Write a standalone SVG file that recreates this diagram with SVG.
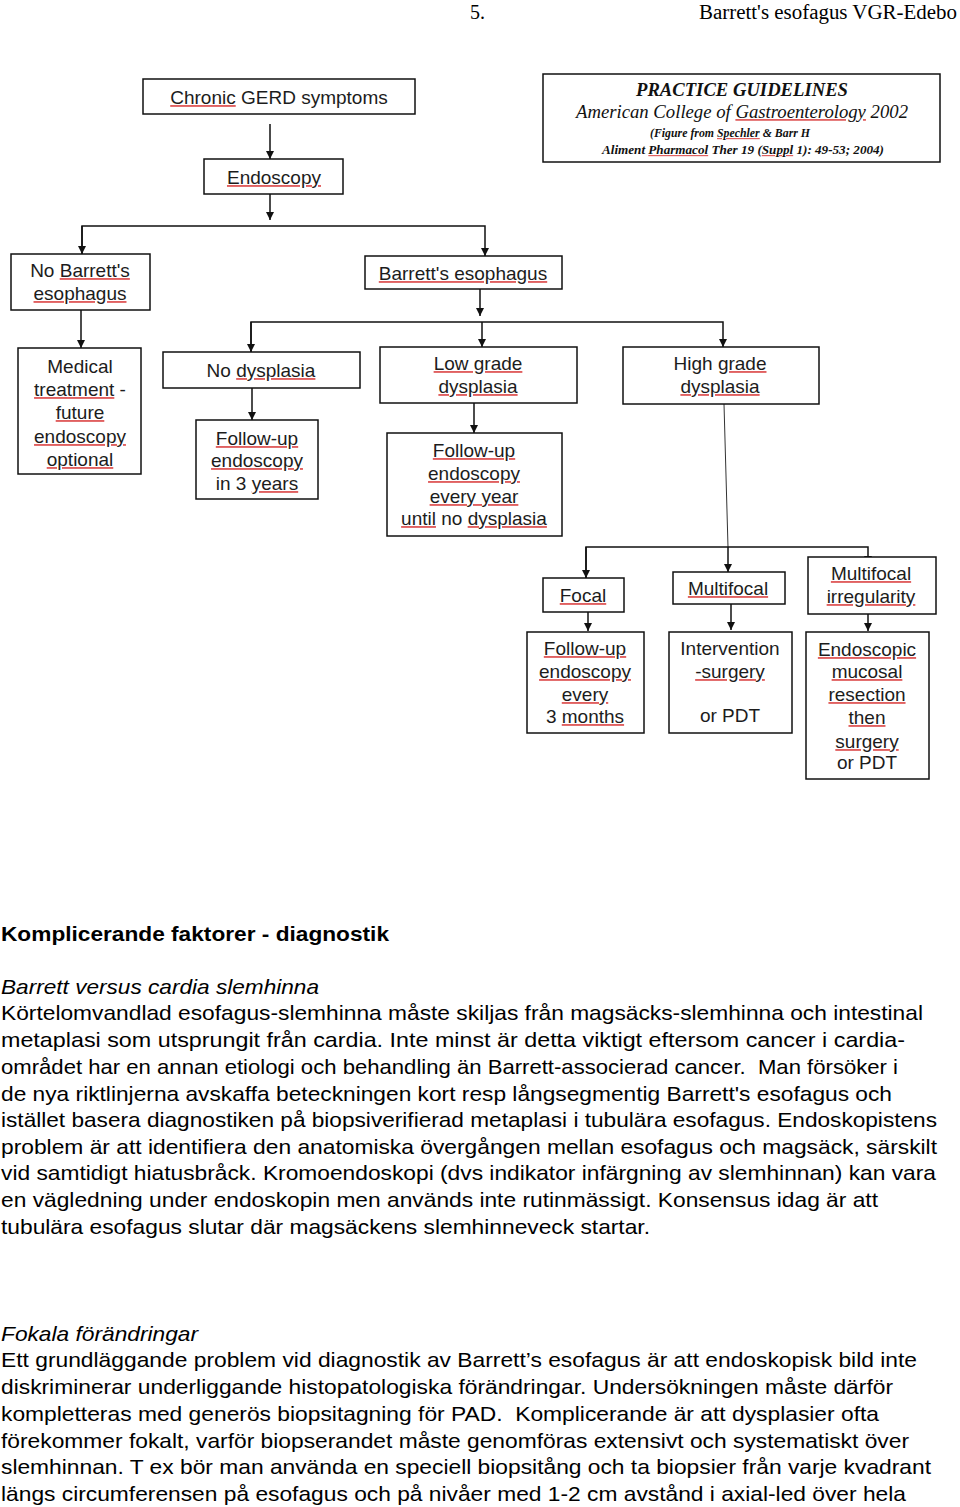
<svg xmlns="http://www.w3.org/2000/svg" width="960" height="1507" viewBox="0 0 960 1507">
<style>
.bx{fill:#fff;stroke:#111;stroke-width:1.5}
.n{font-family:"Liberation Sans",Arial,sans-serif;font-size:19px;fill:#1c1c1c;text-anchor:middle}
.s{text-decoration:underline;fill:#e06060}
.k{fill:#1c1c1c}
.c{stroke:#111;stroke-width:1.5;fill:none}
.p{font-family:"Liberation Sans",Arial,sans-serif;font-size:21px;fill:#000}
.h{font-family:"Liberation Serif","Times New Roman",serif;font-size:20px;fill:#000}
.g{font-family:"Liberation Serif","Times New Roman",serif;fill:#111;text-anchor:middle;font-style:italic}
</style>
<defs>
<marker id="ah" markerUnits="userSpaceOnUse" markerWidth="9" markerHeight="9" refX="8" refY="4" orient="auto">
<path d="M0,0 L8,4 L0,8 z" fill="#111"/>
</marker>
</defs>
<rect width="960" height="1507" fill="#fff"/>
<g id="header">
<text class="h" x="470" y="19">5.</text>
<text class="h" x="699" y="19" textLength="258" lengthAdjust="spacingAndGlyphs">Barrett's esofagus VGR-Edebo</text>
</g>
<g id="connectors">
<line class="c" x1="270" y1="124" x2="270" y2="159" marker-end="url(#ah)"/>
<line class="c" x1="270" y1="194" x2="270" y2="220" marker-end="url(#ah)"/>
<polyline class="c" points="82,254 82,226 485,226 485,256" marker-end="url(#ah)"/>
<line class="c" x1="82" y1="226" x2="82" y2="254" marker-end="url(#ah)"/>
<line class="c" x1="480" y1="289" x2="480" y2="316" marker-end="url(#ah)"/>
<polyline class="c" points="251,352 251,322 723,322 723,347" marker-end="url(#ah)"/>
<line class="c" x1="251" y1="322" x2="251" y2="352" marker-end="url(#ah)"/>
<line class="c" x1="482" y1="322" x2="482" y2="347" marker-end="url(#ah)"/>
<line class="c" x1="81" y1="310" x2="81" y2="348" marker-end="url(#ah)"/>
<line class="c" x1="252" y1="388" x2="252" y2="420" marker-end="url(#ah)"/>
<line class="c" x1="474" y1="403" x2="474" y2="433" marker-end="url(#ah)"/>
<line x1="724" y1="404" x2="728" y2="547" stroke="#333" stroke-width="1"/>
<polyline class="c" points="586,578 586,547 868,547 868,564" marker-end="url(#ah)"/>
<line class="c" x1="586" y1="547" x2="586" y2="578" marker-end="url(#ah)"/>
<line class="c" x1="728" y1="547" x2="728" y2="572" marker-end="url(#ah)"/>
<line class="c" x1="588" y1="612" x2="588" y2="631" marker-end="url(#ah)"/>
<line class="c" x1="731" y1="604" x2="731" y2="630" marker-end="url(#ah)"/>
<line class="c" x1="868" y1="614" x2="868" y2="631" marker-end="url(#ah)"/>
</g>
<g id="guidelines">
<rect class="bx" x="543" y="74" width="397" height="88"/>
<text class="g" x="742" y="96" font-size="18" font-weight="bold" textLength="212" lengthAdjust="spacingAndGlyphs">PRACTICE GUIDELINES</text>
<text class="g" x="742" y="118" font-size="18" textLength="332" lengthAdjust="spacingAndGlyphs">American College of <tspan class="s"><tspan fill="#111">Gastroenterology</tspan></tspan> 2002</text>
<text class="g" x="730" y="137" font-size="12" font-weight="bold" textLength="160" lengthAdjust="spacingAndGlyphs">(Figure from <tspan class="s"><tspan fill="#111">Spechler</tspan></tspan> &amp; Barr H</text>
<text class="g" x="743" y="154" font-size="12" font-weight="bold" textLength="282" lengthAdjust="spacingAndGlyphs">Aliment <tspan class="s"><tspan fill="#111">Pharmacol</tspan></tspan> Ther 19 (<tspan class="s"><tspan fill="#111">Suppl</tspan></tspan> 1): 49-53; 2004)</text>
</g>
<g id="gerd">
<rect class="bx" x="143" y="79" width="272" height="35"/>
<text class="n" x="279" y="104"><tspan class="s"><tspan class="k">Chronic</tspan></tspan> GERD symptoms</text>
</g>
<g id="endoscopy">
<rect class="bx" x="204" y="159" width="139" height="35"/>
<text class="n" x="274" y="184"><tspan class="s"><tspan class="k">Endoscopy</tspan></tspan></text>
</g>
<g id="no-barretts">
<rect class="bx" x="11" y="254" width="139" height="56"/>
<text class="n" x="80" y="277">No <tspan class="s"><tspan class="k">Barrett's</tspan></tspan></text>
<text class="n" x="80" y="300"><tspan class="s"><tspan class="k">esophagus</tspan></tspan></text>
</g>
<g id="barretts">
<rect class="bx" x="365" y="256" width="197" height="33"/>
<text class="n" x="463" y="280"><tspan class="s"><tspan class="k">Barrett's esophagus</tspan></tspan></text>
</g>
<g id="medical">
<rect class="bx" x="18" y="348" width="123" height="126"/>
<text class="n" x="80" y="373">Medical</text>
<text class="n" x="80" y="396"><tspan class="s"><tspan class="k">treatment</tspan></tspan> -</text>
<text class="n" x="80" y="419"><tspan class="s"><tspan class="k">future</tspan></tspan></text>
<text class="n" x="80" y="443"><tspan class="s"><tspan class="k">endoscopy</tspan></tspan></text>
<text class="n" x="80" y="466"><tspan class="s"><tspan class="k">optional</tspan></tspan></text>
</g>
<g id="no-dysplasia">
<rect class="bx" x="163" y="352" width="197" height="36"/>
<text class="n" x="261" y="377">No <tspan class="s"><tspan class="k">dysplasia</tspan></tspan></text>
</g>
<g id="followup-3y">
<rect class="bx" x="196" y="420" width="122" height="79"/>
<text class="n" x="257" y="445"><tspan class="s"><tspan class="k">Follow-up</tspan></tspan></text>
<text class="n" x="257" y="467"><tspan class="s"><tspan class="k">endoscopy</tspan></tspan></text>
<text class="n" x="257" y="490">in 3 <tspan class="s"><tspan class="k">years</tspan></tspan></text>
</g>
<g id="low-grade">
<rect class="bx" x="380" y="347" width="197" height="56"/>
<text class="n" x="478" y="370"><tspan class="s"><tspan class="k">Low grade</tspan></tspan></text>
<text class="n" x="478" y="393"><tspan class="s"><tspan class="k">dysplasia</tspan></tspan></text>
</g>
<g id="followup-year">
<rect class="bx" x="387" y="433" width="175" height="103"/>
<text class="n" x="474" y="457"><tspan class="s"><tspan class="k">Follow-up</tspan></tspan></text>
<text class="n" x="474" y="480"><tspan class="s"><tspan class="k">endoscopy</tspan></tspan></text>
<text class="n" x="474" y="503"><tspan class="s"><tspan class="k">every year</tspan></tspan></text>
<text class="n" x="474" y="525"><tspan class="s"><tspan class="k">until</tspan></tspan> no <tspan class="s"><tspan class="k">dysplasia</tspan></tspan></text>
</g>
<g id="high-grade">
<rect class="bx" x="623" y="347" width="196" height="57"/>
<text class="n" x="720" y="370">High <tspan class="s"><tspan class="k">grade</tspan></tspan></text>
<text class="n" x="720" y="393"><tspan class="s"><tspan class="k">dysplasia</tspan></tspan></text>
</g>
<g id="focal">
<rect class="bx" x="543" y="578" width="81" height="34"/>
<text class="n" x="583" y="602"><tspan class="s"><tspan class="k">Focal</tspan></tspan></text>
</g>
<g id="multifocal">
<rect class="bx" x="673" y="572" width="112" height="32"/>
<text class="n" x="728" y="595"><tspan class="s"><tspan class="k">Multifocal</tspan></tspan></text>
</g>
<g id="multifocal-irregularity">
<rect class="bx" x="808" y="557" width="128" height="57"/>
<text class="n" x="871" y="580"><tspan class="s"><tspan class="k">Multifocal</tspan></tspan></text>
<text class="n" x="871" y="603"><tspan class="s"><tspan class="k">irregularity</tspan></tspan></text>
</g>
<g id="followup-3m">
<rect class="bx" x="527" y="632" width="117" height="101"/>
<text class="n" x="585" y="655"><tspan class="s"><tspan class="k">Follow-up</tspan></tspan></text>
<text class="n" x="585" y="678"><tspan class="s"><tspan class="k">endoscopy</tspan></tspan></text>
<text class="n" x="585" y="701"><tspan class="s"><tspan class="k">every</tspan></tspan></text>
<text class="n" x="585" y="723">3 <tspan class="s"><tspan class="k">months</tspan></tspan></text>
</g>
<g id="intervention">
<rect class="bx" x="669" y="632" width="123" height="101"/>
<text class="n" x="730" y="655">Intervention</text>
<text class="n" x="730" y="678"><tspan class="s"><tspan class="k">-surgery</tspan></tspan></text>
<text class="n" x="730" y="722">or PDT</text>
</g>
<g id="emr">
<rect class="bx" x="806" y="632" width="123" height="147"/>
<text class="n" x="867" y="656"><tspan class="s"><tspan class="k">Endoscopic</tspan></tspan></text>
<text class="n" x="867" y="678"><tspan class="s"><tspan class="k">mucosal</tspan></tspan></text>
<text class="n" x="867" y="701"><tspan class="s"><tspan class="k">resection</tspan></tspan></text>
<text class="n" x="867" y="724"><tspan class="s"><tspan class="k">then</tspan></tspan></text>
<text class="n" x="867" y="748"><tspan class="s"><tspan class="k">surgery</tspan></tspan></text>
<text class="n" x="867" y="769">or PDT</text>
</g>
<g id="text-body">
<text class="p" x="1" y="941" font-weight="bold" textLength="388" lengthAdjust="spacingAndGlyphs">Komplicerande faktorer - diagnostik</text>
<text class="p" x="1" y="994" font-style="italic" textLength="318" lengthAdjust="spacingAndGlyphs">Barrett versus cardia slemhinna</text>
<text class="p" x="1" y="1020" textLength="922" lengthAdjust="spacingAndGlyphs">Körtelomvandlad esofagus-slemhinna måste skiljas från magsäcks-slemhinna och intestinal</text>
<text class="p" x="1" y="1047" textLength="904" lengthAdjust="spacingAndGlyphs">metaplasi som utsprungit från cardia. Inte minst är detta viktigt eftersom cancer i cardia-</text>
<text class="p" x="1" y="1074" textLength="897" lengthAdjust="spacingAndGlyphs" xml:space="preserve">området har en annan etiologi och behandling än Barrett-associerad cancer.  Man försöker i</text>
<text class="p" x="1" y="1101" textLength="891" lengthAdjust="spacingAndGlyphs">de nya riktlinjerna avskaffa beteckningen kort resp långsegmentig Barrett's esofagus och</text>
<text class="p" x="1" y="1127" textLength="936" lengthAdjust="spacingAndGlyphs">istället basera diagnostiken på biopsiverifierad metaplasi i tubulära esofagus. Endoskopistens</text>
<text class="p" x="1" y="1154" textLength="936" lengthAdjust="spacingAndGlyphs">problem är att identifiera den anatomiska övergången mellan esofagus och magsäck, särskilt</text>
<text class="p" x="1" y="1180" textLength="935" lengthAdjust="spacingAndGlyphs">vid samtidigt hiatusbråck. Kromoendoskopi (dvs indikator infärgning av slemhinnan) kan vara</text>
<text class="p" x="1" y="1207" textLength="877" lengthAdjust="spacingAndGlyphs">en vägledning under endoskopin men används inte rutinmässigt. Konsensus idag är att</text>
<text class="p" x="1" y="1234" textLength="649" lengthAdjust="spacingAndGlyphs">tubulära esofagus slutar där magsäckens slemhinneveck startar.</text>
<text class="p" x="1" y="1341" font-style="italic" textLength="197" lengthAdjust="spacingAndGlyphs">Fokala förändringar</text>
<text class="p" x="1" y="1367" textLength="916" lengthAdjust="spacingAndGlyphs">Ett grundläggande problem vid diagnostik av Barrett’s esofagus är att endoskopisk bild inte</text>
<text class="p" x="1" y="1394" textLength="892" lengthAdjust="spacingAndGlyphs">diskriminerar underliggande histopatologiska förändringar. Undersökningen måste därför</text>
<text class="p" x="1" y="1421" textLength="878" lengthAdjust="spacingAndGlyphs" xml:space="preserve">kompletteras med generös biopsitagning för PAD.  Komplicerande är att dysplasier ofta</text>
<text class="p" x="1" y="1448" textLength="908" lengthAdjust="spacingAndGlyphs">förekommer fokalt, varför biopserandet måste genomföras extensivt och systematiskt över</text>
<text class="p" x="1" y="1474" textLength="930" lengthAdjust="spacingAndGlyphs">slemhinnan. T ex bör man använda en speciell biopsitång och ta biopsier från varje kvadrant</text>
<text class="p" x="1" y="1501" textLength="905" lengthAdjust="spacingAndGlyphs">längs circumferensen på esofagus och på nivåer med 1-2 cm avstånd i axial-led över hela</text>
</g>
</svg>
